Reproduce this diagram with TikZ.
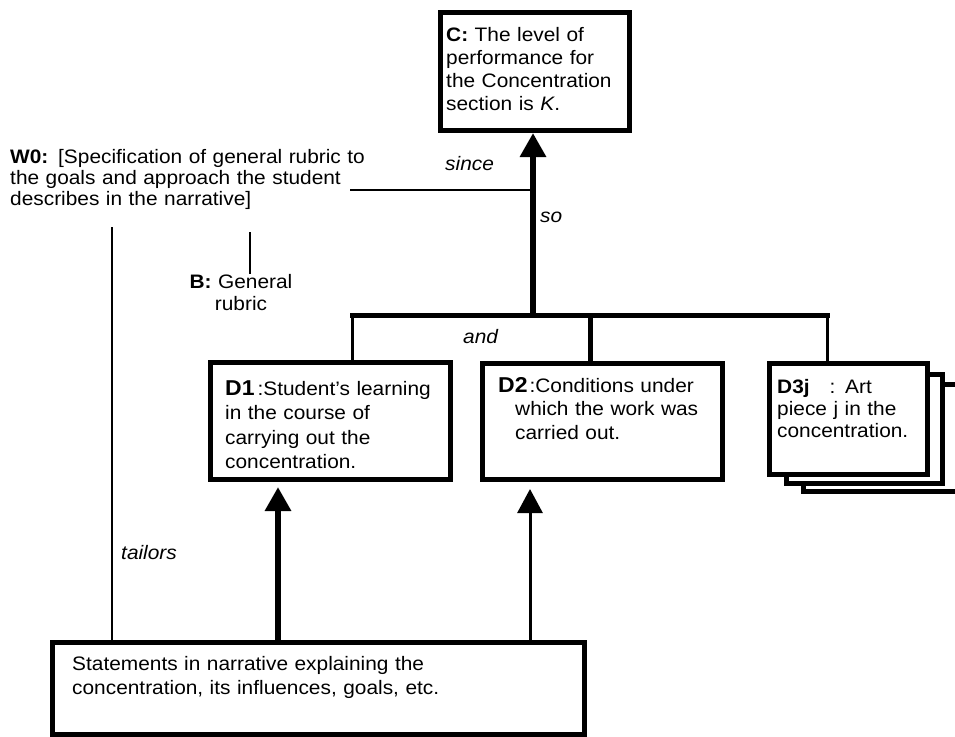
\documentclass[tikz,border=0pt]{standalone}
\usepackage{fontspec}
\setmainfont{Liberation Sans}[FakeStretch=1.07]
\usetikzlibrary{arrows.meta}
\begin{document}
\begin{tikzpicture}[x=1pt,y=-1pt,
  box/.style={draw, line width=5pt, fill=white, inner sep=0pt, anchor=north west},
  txt/.style={inner sep=0pt, anchor=base west, align=left, text width=#1,
    font=\fontsize{19.5}{23}\selectfont},
  txt/.default=260pt,
  lbl/.style={inner sep=0pt, anchor=base west, font=\fontsize{19.5}{22}\selectfont\itshape},
  tipa/.style={-{Triangle[width=25pt,length=24pt]}},
  thin/.style={line width=2pt}
]
\clip (0,0) rectangle (955,736);
\fill[white] (0,0) rectangle (955,736);

% boxes
\node[box, minimum width=189pt, minimum height=118pt] (C) at (438,10) {};
\node[box, minimum width=240pt, minimum height=117pt] (D1) at (208,360) {};
\node[box, minimum width=240pt, minimum height=116pt] (D2) at (480,361) {};
\node[box, minimum width=156pt, minimum height=107pt] (D3c) at (801,382) {};
\node[box, minimum width=156pt, minimum height=109pt] (D3b) at (784,372) {};
\node[box, minimum width=158pt, minimum height=111pt] (D3a) at (767,361) {};
\node[box, minimum width=532pt, minimum height=92pt] (S) at (50,640) {};

% texts
\node[txt=190pt] (Ct) at (446,41) {\textbf{C:} The level of\\performance for\\the Concentration\\section is \textit{K}.};
\node[txt=400pt, font=\fontsize{19.5}{21}\selectfont] (W0) at (10,163)
  {\textbf{W0:} [Specification of general rubric to\\the goals and approach the student\\describes in the narrative]};
\node[inner sep=0pt, anchor=base, align=center, text width=140pt,
  font=\fontsize{19.5}{22}\selectfont] (B) at (241,288) {\textbf{B:} General\\rubric};
\node[txt=240pt, font=\fontsize{19.5}{24.5}\selectfont] (D1t) at (225,395)
  {{\fontsize{21.5}{24}\selectfont\bfseries D1}\hspace{3pt}:Student’s learning\\in the course of\\carrying out the\\concentration.};
\node[txt=240pt, font=\fontsize{19.5}{23.5}\selectfont] (D2t) at (498,392)
  {{\fontsize{21.5}{24}\selectfont\bfseries D2}\hspace{2pt}:Conditions under\\\hspace*{17pt}which the work was\\\hspace*{17pt}carried out.};
\node[txt=160pt, font=\fontsize{19.5}{22}\selectfont] (D3t) at (777,393)
  {\textbf{D3j}\hspace{20pt}: Art\\piece j in the\\concentration.};
\node[txt=520pt, font=\fontsize{19.5}{24}\selectfont] (St) at (72,670)
  {Statements in narrative explaining the\\concentration, its influences, goals, etc.};

\node[lbl] (since) at (445,170) {since};
\node[lbl] (so) at (540,222) {so};
\node[lbl] (and) at (463,343) {and};
\node[lbl] (tailors) at (121,559) {tailors};

% connectors
\coordinate (bl) at (352,315);
\coordinate (br) at (827,315);
\coordinate (jm) at (533,315);
\coordinate (j2) at (590,315);
\coordinate (sinceL) at (350,190);
\coordinate (tt) at (112,227);
\coordinate (bt) at (250,232);
\coordinate (a1) at (278,0);
\coordinate (a2) at (530,0);

\draw[line width=5pt, line cap=rect] (bl) -- (br);
\draw[line width=3pt] (bl) -- (bl |- D1.north);
\draw[line width=5pt] (j2) -- (j2 |- D2.north);
\draw[line width=3pt] (br) -- (br |- D3a.north);
\draw[tipa, line width=6pt] (jm) -- (jm |- C.south);
\draw[thin] (sinceL) -- (sinceL -| jm);
\draw[thin] (tt) -- (tt |- S.north);
\draw[thin] (bt) -- (bt |- B.north);
\draw[tipa, line width=6pt, shorten >=5pt] (a1 |- S.north) -- (a1 |- D1.south);
\draw[tipa, line width=3pt, shorten >=7pt] (a2 |- S.north) -- (a2 |- D2.south);
\end{tikzpicture}
\end{document}
